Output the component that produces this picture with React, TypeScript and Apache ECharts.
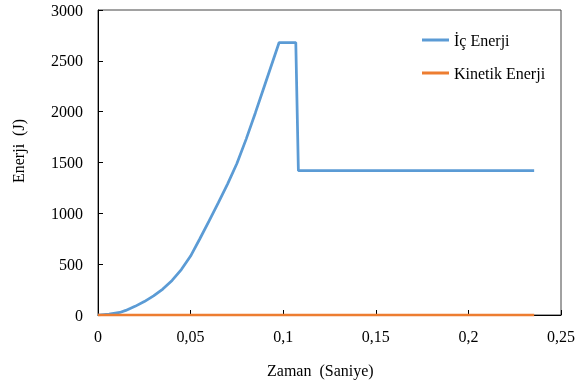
import React, { useEffect, useRef } from "react";
import * as echarts from "echarts";

const icTime = [0, 0.006, 0.0118, 0.015, 0.02, 0.025, 0.03, 0.035, 0.04, 0.045, 0.05, 0.055, 0.06, 0.065, 0.07, 0.075, 0.08, 0.085, 0.09, 0.0978, 0.1068, 0.1082, 0.15, 0.2, 0.2355];
const icEnerji = [0, 8, 25, 45, 85, 132, 188, 255, 340, 447, 580, 750, 925, 1105, 1290, 1490, 1730, 1990, 2260, 2680, 2680, 1420, 1420, 1420, 1420];
const kinTime = [0, 0.05, 0.1, 0.15, 0.2, 0.2355];
const kinEnerji = [0, 0, 0, 0, 0, 0];
const seriesNames = ["İç Enerji", "Kinetik Enerji"];
const xTitle = "Zaman  (Saniye)";
const yTitle = "Enerji  (J)";

const FONT = "Liberation Serif";

export default function App() {
  const ref = useRef<HTMLDivElement>(null);
  useEffect(() => {
    if (!ref.current) return;
    const chart = echarts.init(ref.current, undefined, { renderer: "svg" });
    const fmtX = (v: number) => String(+v.toFixed(2)).replace(".", ",");
    chart.setOption({
      animation: false,
      textStyle: { fontFamily: FONT },
      grid: {
        left: 98,
        right: 15,
        top: 10,
        bottom: 70,
        show: true,
        borderColor: "#444",
        borderWidth: 1,
      },
      legend: {
        orient: "vertical",
        left: 417,
        top: 27,
        itemWidth: 27,
        itemHeight: 3,
        itemGap: 17,
        icon: "rect",
        data: seriesNames,
        textStyle: { fontFamily: FONT, fontSize: 16, color: "#000" },
      },
      xAxis: {
        type: "value",
        min: 0,
        max: 0.25,
        interval: 0.05,
        splitLine: { show: false },
        axisLine: { lineStyle: { color: "#000", width: 1 } },
        axisTick: { inside: true, length: 5, lineStyle: { color: "#000" } },
        axisLabel: {
          formatter: fmtX,
          fontFamily: FONT,
          fontSize: 16,
          color: "#000",
          margin: 13,
        },
      },
      yAxis: {
        type: "value",
        min: 0,
        max: 3000,
        interval: 500,
        splitLine: { show: false },
        axisLine: { show: true, lineStyle: { color: "#000", width: 1 } },
        axisTick: { show: true, inside: true, length: 5, lineStyle: { color: "#000" } },
        axisLabel: {
          formatter: (v: number) => String(v),
          fontFamily: FONT,
          fontSize: 16,
          color: "#000",
          margin: 15,
        },
      },
      graphic: [
        {
          type: "text",
          left: 267,
          top: 362,
          style: { text: xTitle, font: `16px "${FONT}"`, fill: "#000" },
        },
        {
          type: "text",
          x: 10,
          y: 183,
          rotation: Math.PI / 2,
          style: { text: yTitle, font: `16px "${FONT}"`, fill: "#000" },
        },
      ],
      series: [
        {
          name: seriesNames[0],
          type: "line",
          data: icTime.map((t, i) => [t, icEnerji[i]]),
          showSymbol: false,
          symbol: "none",
          lineStyle: { color: "#5B9BD5", width: 2.75 },
          itemStyle: { color: "#5B9BD5" },
          z: 3,
        },
        {
          name: seriesNames[1],
          type: "line",
          data: kinTime.map((t, i) => [t, kinEnerji[i]]),
          showSymbol: false,
          symbol: "none",
          lineStyle: { color: "#ED7D31", width: 2.75 },
          itemStyle: { color: "#ED7D31" },
          z: 4,
        },
      ],
    });
    return () => chart.dispose();
  }, []);
  return (
    <div
      ref={ref}
      style={{ position: "fixed", left: 0, top: 0, width: 578, height: 385 }}
    />
  );
}
